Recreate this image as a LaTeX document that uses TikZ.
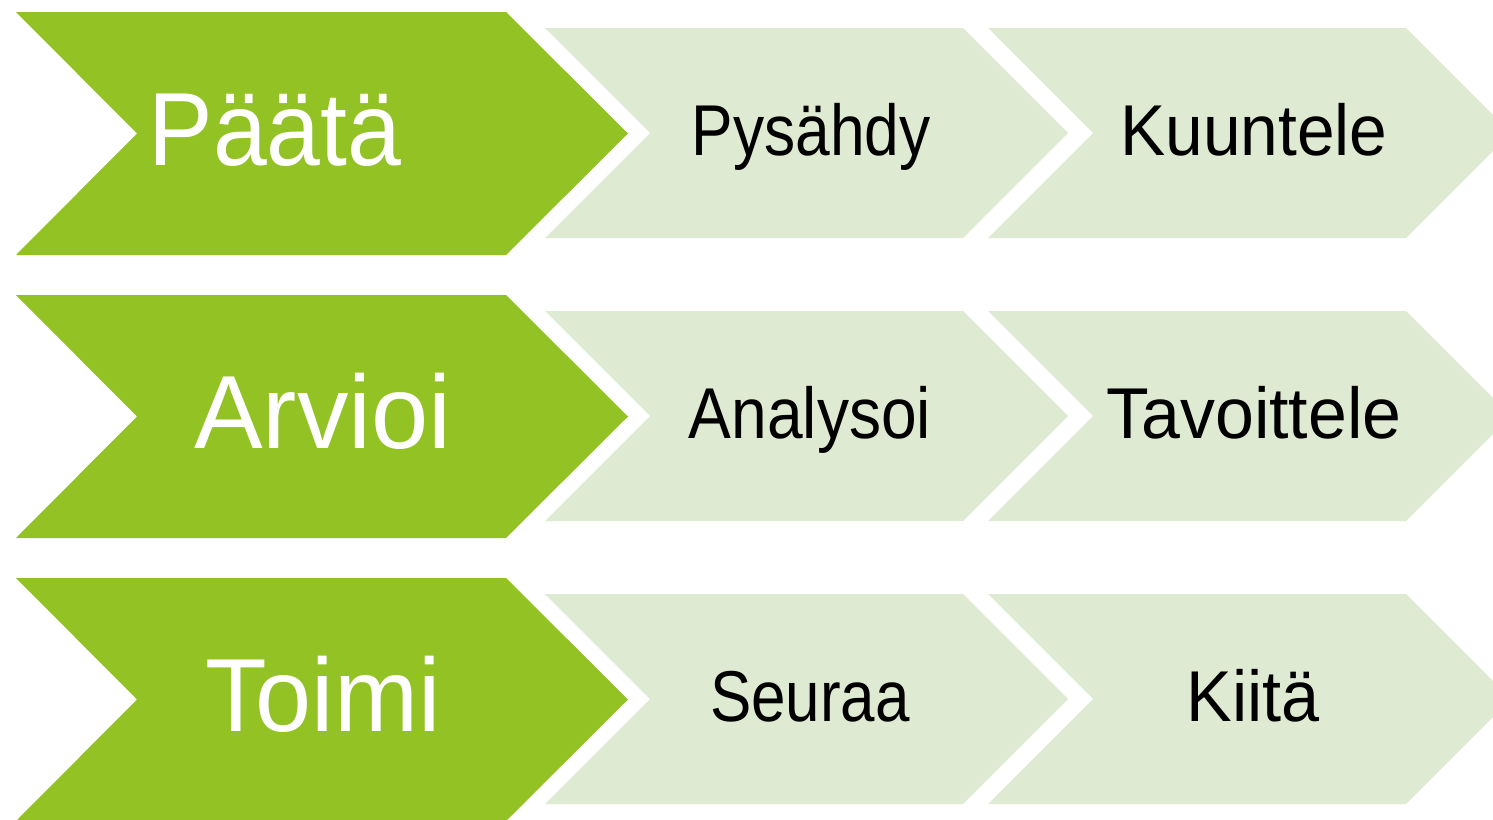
\documentclass[tikz,border=0pt]{standalone}
\usepackage{fontspec}
\setmainfont{Liberation Sans}
\definecolor{stepgreen}{RGB}{147,194,37}
\definecolor{steplight}{RGB}{222,234,209}
\tikzset{
  bigchev/.style={fill=stepgreen, draw=none},
  smallchev/.style={fill=steplight, draw=none},
  bigtext/.style={text=white, anchor=base, inner sep=0pt, font=\fontsize{104}{110}\selectfont},
  smalltext/.style={text=black, anchor=base, inner sep=0pt, font=\fontsize{72}{80}\selectfont},
}
\newcommand{\sq}[2]{\scalebox{#1}[1]{#2}}
\begin{document}
\begin{tikzpicture}[x=1pt,y=-1pt]
\useasboundingbox (0,0) rectangle (1493,819);
\begin{scope}
\clip (0,0) rectangle (1493,819);
\foreach \r in {0,1,2}{
  \pgfmathsetmacro{\dy}{283*\r}
  \begin{scope}[yshift=-\dy pt]
    % big green chevron
    \fill[bigchev] (16,12) -- (506,12) -- (628,133.5) -- (506,255) -- (16,255) -- (137,133.5) -- cycle;
    % light chevrons
    \fill[smallchev] (545,28) -- (963,28) -- (1068,133) -- (963,238) -- (545,238) -- (650,133) -- cycle;
    \fill[smallchev] (988,28) -- (1406,28) -- (1511,133) -- (1406,238) -- (988,238) -- (1093,133) -- cycle;
  \end{scope}
}
\end{scope}
\node[bigtext] (t1) at (275,165) {\sq{0.93}{Päätä}};
\node[bigtext] (t2) at (323,448) {\sq{0.99}{Arvioi}};
\node[bigtext] (t3) at (323,731) {\sq{0.97}{Toimi}};
\node[smalltext] (a1) at (811,155) {\sq{0.865}{Pysähdy}};
\node[smalltext] (b1) at (1254,155) {\sq{0.94}{Kuuntele}};
\node[smalltext] (a2) at (810,438) {\sq{0.89}{Analysoi}};
\node[smalltext] (b2) at (1254,438) {\sq{0.97}{Tavoittele}};
\node[smalltext] (a3) at (810,721) {\sq{0.86}{Seuraa}};
\node[smalltext] (b3) at (1253,721) {\sq{0.95}{Kiitä}};
\end{tikzpicture}
\end{document}
